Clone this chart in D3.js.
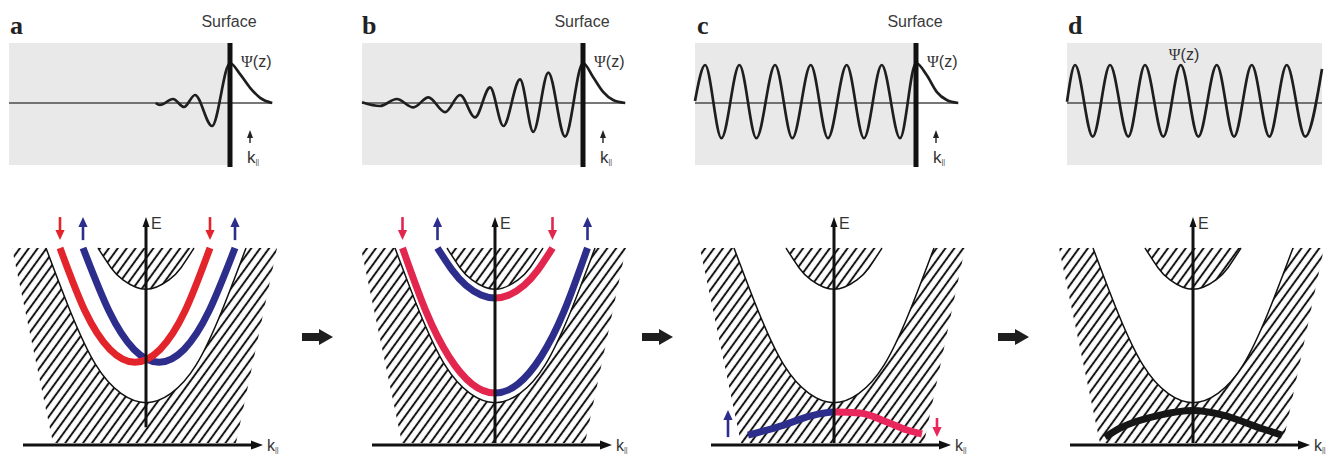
<!DOCTYPE html>
<html>
<head>
<meta charset="utf-8">
<script src="https://cdn.jsdelivr.net/npm/d3@7"></script>
<style>
  html, body { margin: 0; background: #fff; }
  svg { display: block; }
  text { font-family: "Liberation Sans", Arial, "DejaVu Sans", sans-serif; }
</style>
</head>
<body>
<svg id="fig" width="1343" height="455"></svg>
<script>
// ---------- Wavefunctions Ψ(z): extrema along z (surface at z = 0), amplitude relative to the surface peak ----------
const waveA = [[-7.4,0],[-6.97,-0.05],[-5.67,0.1],[-4.58,-0.1],[-3.48,0.2],[-1.79,-0.575],[0,1],[1.0,0.72],[2.0,0.38],[3.0,0.13],[4.2,0]];
const waveB = [[-22,0.02],[-20.2,-0.075],[-18.54,0.1],[-16.89,-0.11],[-15.39,0.14],[-13.73,-0.23],[-12.24,0.2],[-10.75,-0.36],
               [-9.25,0.39],[-7.93,-0.575],[-6.27,0.59],[-4.95,-0.72],[-3.45,0.76],[-1.79,-0.84],[0,1],[1,0.65],[2,0.28],[3,0.075],[4.2,0]];
const waveC = [[-22,0.05],[-20.99,0.95],[-19.37,-0.88],[-17.58,0.95],[-15.89,-0.88],[-14.03,0.95],[-12.31,-0.88],[-10.48,0.95],
               [-8.76,-0.88],[-6.9,0.95],[-5.18,-0.88],[-3.41,0.95],[-1.59,-0.88],[0,1],[1.06,0.7],[2.06,0.28],[3.06,0.075],[4.2,0]];
const waveD = [[-22,0.03],[-21.2,0.95],[-19.44,-0.84],[-17.72,0.95],[-15.9,-0.84],[-14.24,0.95],[-12.42,-0.84],[-10.68,0.95],
               [-8.93,-0.84],[-7.1,0.95],[-5.38,-0.84],[-3.62,0.95],[-1.87,-0.84],[-0.14,0.95],[1.7,-0.84],[3.37,0.85]];
const bulkRange = [-22, 0];       // z extent of the crystal (a–c)
const vacuumEnd = 4.2;            // baseline extends into vacuum
const bulkRangeD = [-22, 3.37];   // z extent of the film in d

// ---------- Band diagrams: points as [k, E] ----------
const hatchOutline = [[-1.34,1],[1.31,1],[0.90,0.01],[-0.93,0.01]];
const outerEdge = [[-1.0,1],[-0.75,0.67],[-0.5,0.405],[-0.25,0.262],[0,0.215],[0.25,0.262],[0.5,0.405],[0.75,0.67],[1.0,1]];
const innerEdge = [[-0.48,1],[-0.35,0.9],[-0.23,0.838],[0,0.79],[0.23,0.838],[0.35,0.9],[0.48,1]];

// a: two Rashba-split parabolas
const bandARed  = [[-0.86,1],[-0.61,0.68],[-0.36,0.485],[-0.11,0.42],[0.14,0.485],[0.39,0.68],[0.64,1]];
const bandABlue = [[-0.63,1],[-0.37,0.68],[-0.12,0.485],[0.13,0.42],[0.38,0.485],[0.63,0.68],[0.89,1]];
// b: lower and upper bands, spin-split between k < 0 and k > 0
const bandBLower = [[-0.925,1],[-0.69,0.678],[-0.46,0.448],[-0.23,0.31],[0,0.264],[0.23,0.31],[0.46,0.448],[0.69,0.678],[0.925,1]];
const bandBUpper = [[-0.575,1],[-0.43,0.889],[-0.29,0.81],[-0.14,0.761],[0,0.746],[0.14,0.761],[0.29,0.81],[0.43,0.889],[0.575,1]];
// c: band pushed into the bulk continuum
const bandC = [[-0.86,0.05],[-0.51,0.10],[-0.24,0.147],[0,0.168],[0.26,0.162],[0.53,0.117],[0.73,0.076],[0.88,0.056]];
// d: spin-degenerate band
const bandD = [[-0.88,0.04],[-0.73,0.086],[-0.33,0.152],[0,0.175],[0.3,0.152],[0.7,0.081],[0.89,0.05]];

// spin arrows: [k, E tail, E tip]
const spinsA = [[-0.86,1.157,1.04],[-0.63,1.04,1.157],[0.64,1.157,1.04],[0.89,1.04,1.157]];
const spinsB = [[-0.925,1.157,1.04],[-0.575,1.04,1.157],[0.575,1.157,1.04],[0.925,1.04,1.157]];
const spinsC = [[-1.06,0.04,0.178],[1.03,0.137,0.04]];

const panelLetters = ["a","b","c","d"];

// ---------- Layout ----------
const BLUE = "#2d2e8c";
const layout = [
  { surfX: 230, cx: 146, letterX: 10,   eBottom: 0.09, red: "#e3252b", halo: true },
  { surfX: 583, cx: 495, letterX: 362,  eBottom: 0.01, red: "#e2264e", halo: true },
  { surfX: 916, cx: 834, letterX: 697,  eBottom: 0.01, red: "#e8275c", halo: false },
  { surfX: null, cx: 1193, letterX: 1068, eBottom: 0.01, red: "#e8275c", halo: false }
];
const transitionArrows = [302, 642, 998];

const svg = d3.select("#fig");
const defs = svg.append("defs");

// diagonal hatching for the projected bulk bands
const pat = defs.append("pattern").attr("id", "hatch")
  .attr("patternUnits", "userSpaceOnUse")
  .attr("width", 7.2).attr("height", 12)
  .attr("patternTransform", "rotate(36)");
pat.append("line").attr("x1", 3.6).attr("y1", -1).attr("x2", 3.6).attr("y2", 13)
  .attr("stroke", "#141414").attr("stroke-width", 2.0);

function vArrow(g, x, y0, y1, color, w, head, hw) {
  const dir = y1 < y0 ? 1 : -1;  // 1: pointing up
  g.append("line").attr("x1", x).attr("x2", x).attr("y1", y0).attr("y2", y1 + dir * head * 0.8)
    .attr("stroke", color).attr("stroke-width", w);
  g.append("path").attr("d", `M${x},${y1} L${x - hw},${y1 + dir * head} L${x + hw},${y1 + dir * head} Z`).attr("fill", color);
}

// ---------- Top row: Ψ(z) near the surface ----------
const waves = [waveA, waveB, waveC, waveD];
layout.forEach((p, i) => {
  const g = svg.append("g");
  const x = p.surfX !== null
    ? d3.scaleLinear(bulkRange, [p.surfX - 221, p.surfX])
    : d3.scaleLinear(bulkRangeD, [1067, 1322]);
  const y = d3.scaleLinear([-1, 1], [143, 63]);
  const zEnd = p.surfX !== null ? bulkRange[1] : bulkRangeD[1];
  const zLine = p.surfX !== null ? vacuumEnd : bulkRangeD[1];

  g.append("rect").attr("x", x(bulkRange[0])).attr("y", 43)
    .attr("width", x(zEnd) - x(bulkRange[0])).attr("height", 122).attr("fill", "#e9e9e9");
  g.append("line").attr("x1", x(bulkRange[0])).attr("x2", x(zLine)).attr("y1", y(0)).attr("y2", y(0))
    .attr("stroke", "#4a4a4a").attr("stroke-width", 1.3);
  const line = d3.line().x(d => x(d[0])).y(d => y(d[1])).curve(d3.curveMonotoneX);
  g.append("path").attr("d", line(waves[i])).attr("fill", "none")
    .attr("stroke", "#1e1e1e").attr("stroke-width", 2.7);

  g.append("text").attr("x", p.letterX).attr("y", 34)
    .style("font-family", "'Liberation Serif', 'Times New Roman', serif")
    .attr("font-weight", "bold").attr("font-size", 26).attr("fill", "#222").text(panelLetters[i]);

  const psi = g.append("text").attr("font-size", 16).attr("fill", "#333");
  if (p.surfX !== null) {
    g.append("rect").attr("x", p.surfX - 2.5).attr("y", 43).attr("width", 5).attr("height", 124).attr("fill", "#111");
    g.append("text").attr("x", p.surfX - 1).attr("y", 26.5).attr("text-anchor", "middle")
      .attr("font-size", 16).attr("fill", "#3a3a3a").text("Surface");
    psi.attr("x", p.surfX + 11).attr("y", 67);
    // k∥ direction marker
    vArrow(g, p.surfX + 20, 143, 130, "#222", 1.4, 8, 3);
    const kt = g.append("text").attr("x", p.surfX + 17).attr("y", 163).attr("font-size", 17).attr("fill", "#333");
    kt.append("tspan").text("k");
    kt.append("tspan").attr("font-size", 7).attr("dy", 1).text("||");
  } else {
    psi.attr("x", 1184).attr("y", 60).attr("text-anchor", "middle");
  }
  psi.append("tspan").style("font-family", "'Liberation Serif', 'DejaVu Serif', serif").text("Ψ");
  psi.append("tspan").text("(z)");
});

// ---------- Bottom row: E(k∥) band diagrams ----------
const bandSets = [
  [{ pts: bandABlue, left: BLUE, right: BLUE }, { pts: bandARed, left: "red", right: "red" }],
  [{ pts: bandBLower, left: "red", right: BLUE }, { pts: bandBUpper, left: BLUE, right: "red" }],
  [{ pts: bandC, left: BLUE, right: "red", mono: true }],
  [{ pts: bandD, left: "#161616", right: "#161616", mono: true }]
];
const spinSets = [spinsA, spinsB, spinsC, []];

layout.forEach((p, i) => {
  const g = svg.append("g");
  const x = d3.scaleLinear([-1, 1], [p.cx - 100, p.cx + 100]);
  const y = d3.scaleLinear([0, 1], [445, 248]);
  const straight = d3.line().x(d => x(d[0])).y(d => y(d[1]));
  const smooth = d3.line().x(d => x(d[0])).y(d => y(d[1])).curve(d3.curveNatural);
  const mono = d3.line().x(d => x(d[0])).y(d => y(d[1])).curve(d3.curveMonotoneX);

  // hatched projected bulk bands with the gap cut out
  g.append("path").attr("d", straight(hatchOutline) + "Z").attr("fill", "url(#hatch)");
  g.append("path").attr("d", smooth(outerEdge) + "Z").attr("fill", "#fff");
  g.append("path").attr("d", smooth(innerEdge) + "Z").attr("fill", "url(#hatch)");
  [outerEdge, innerEdge].forEach(e =>
    g.append("path").attr("d", smooth(e)).attr("fill", "none").attr("stroke", "#111").attr("stroke-width", 1.5));

  // clip halves at k = 0 for spin-split colouring
  const cl = defs.append("clipPath").attr("id", "L" + i);
  cl.append("rect").attr("x", 0).attr("y", 0).attr("width", x(0)).attr("height", 455);
  const cr = defs.append("clipPath").attr("id", "R" + i);
  cr.append("rect").attr("x", x(0)).attr("y", 0).attr("width", 1343 - x(0)).attr("height", 455);

  const bands = bandSets[i];
  if (p.halo) {
    bands.forEach(b => g.append("path").attr("d", (b.mono ? mono : smooth)(b.pts)).attr("fill", "none")
      .attr("stroke", "#fff").attr("stroke-width", 10.5));
  }
  bands.forEach(b => {
    const d = (b.mono ? mono : smooth)(b.pts);
    const col = c => (c === "red" ? p.red : c);
    if (b.left === b.right) {
      g.append("path").attr("d", d).attr("fill", "none").attr("stroke", col(b.left)).attr("stroke-width", 7);
    } else {
      g.append("path").attr("d", d).attr("fill", "none").attr("stroke", col(b.left)).attr("stroke-width", 7)
        .attr("clip-path", `url(#L${i})`);
      g.append("path").attr("d", d).attr("fill", "none").attr("stroke", col(b.right)).attr("stroke-width", 7)
        .attr("clip-path", `url(#R${i})`);
    }
  });

  // axes
  g.append("line").attr("x1", x(0)).attr("x2", x(0)).attr("y1", y(p.eBottom)).attr("y2", y(1.157) + 6)
    .attr("stroke", "#111").attr("stroke-width", 3);
  g.append("path").attr("d", `M${x(0)},${y(1.157)} L${x(0) - 3.5},${y(1.157) + 10} L${x(0) + 3.5},${y(1.157) + 10} Z`).attr("fill", "#111");
  g.append("line").attr("x1", x(-1.23)).attr("x2", x(1.17) - 8).attr("y1", y(0)).attr("y2", y(0))
    .attr("stroke", "#111").attr("stroke-width", 3.2);
  g.append("path").attr("d", `M${x(1.17)},${y(0)} L${x(1.17) - 12},${y(0) - 4.5} L${x(1.17) - 12},${y(0) + 4.5} Z`).attr("fill", "#111");
  g.append("text").attr("x", x(0) + 5).attr("y", 229).attr("font-size", 16).attr("fill", "#333").text("E");
  const kt = g.append("text").attr("x", x(1.17) + 4).attr("y", 451).attr("font-size", 16).attr("fill", "#333");
  kt.append("tspan").text("k");
  kt.append("tspan").attr("font-size", 7).attr("dy", 1).text("||");

  // spin orientation arrows
  spinSets[i].forEach(s => {
    const up = s[2] > s[1];
    vArrow(g, x(s[0]), y(s[1]), y(s[2]), up ? BLUE : p.red, 2.6, 10, 4.6);
  });
});

// transitions between panels
transitionArrows.forEach(x0 => {
  svg.append("path")
    .attr("d", `M${x0},333 L${x0 + 17},333 L${x0 + 17},329 L${x0 + 31},337 L${x0 + 17},345 L${x0 + 17},341 L${x0},341 Z`)
    .attr("fill", "#1e1e1e");
});
</script>
</body>
</html>
